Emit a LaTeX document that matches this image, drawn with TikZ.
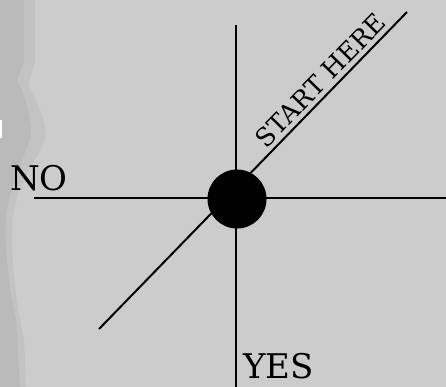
\documentclass[tikz,border=0pt]{standalone}
\usepackage{fontspec}
\setmainfont{DejaVu Serif}
\definecolor{bg}{HTML}{CCCCCC}
\definecolor{stripmid}{HTML}{C3C3C3}
\definecolor{stripdark}{HTML}{BABABA}
\begin{document}
\begin{tikzpicture}[x=1pt,y=-1pt,
  axis/.style={line width=2pt, black},
  bigword/.style={font=\fontsize{34}{36}\selectfont, inner sep=0pt},
  smallword/.style={font=\fontsize{25.5}{27}\selectfont, inner sep=0pt}]
\fill[bg] (0,0) rectangle (446,387);
\useasboundingbox (0,0) rectangle (446,387);
% left paper strip
\fill[stripmid] (0,0) -- (35,0) -- (35,62) .. controls (32,72) .. (28,85)
  .. controls (36,100) .. (42,115) .. controls (47,135) .. (42,148)
  .. controls (30,168) .. (20,188) .. controls (12,215) .. (12,250)
  .. controls (16,300) .. (24,340) -- (26,387) -- (0,387) -- cycle;
\fill[stripdark] (0,0) -- (24,0) -- (24,62) .. controls (20,72) .. (17,80)
  .. controls (24,95) .. (28,110) .. controls (32,130) .. (28,145)
  .. controls (18,170) .. (10,195) .. controls (5,220) .. (6,250)
  .. controls (10,290) .. (16,320) -- (20,387) -- (0,387) -- cycle;
\fill[white] (0,120) rectangle (2,138);
% endpoints
\coordinate (vt) at (236,25);
\coordinate (vb) at (236,387);
\coordinate (hl) at (34,198);
\coordinate (hr) at (446,198);
\coordinate (dl) at (99,329);
\coordinate (du) at (407,12);
\draw[axis] (vt) -- (vb);
\draw[axis] (hl) -- (hr);
\draw[axis] (dl) -- (du);
\node[circle, fill=black, minimum size=59pt, inner sep=0pt] (hub) at (237,199) {};
\node[bigword, anchor=base west] (no) at (10,190) {NO};
\node[bigword, anchor=base west] (yes) at (243,378) {YES};
\node[smallword, rotate=45.8, anchor=base] (start) at (326.8,86.8) {START HERE};
\end{tikzpicture}
\end{document}
